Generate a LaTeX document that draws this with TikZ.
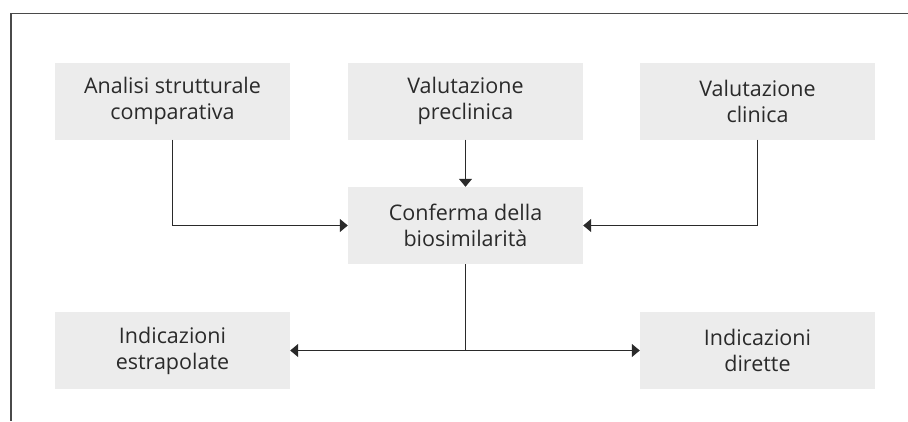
\documentclass[tikz,border=0pt]{standalone}
\usepackage{fontspec}
\setmainfont{Open Sans}
\usepackage{tikz}
\usetikzlibrary{arrows.meta, positioning}
\tikzset{>={Triangle[length=8pt,width=13pt]}}
\definecolor{boxgray}{HTML}{ECECEC}
\definecolor{inkgray}{HTML}{2A2A2A}
\tikzset{
  stepbox/.style={fill=boxgray, draw=none, text=inkgray, align=center,
    minimum width=235pt, minimum height=77pt, inner sep=0pt,
    font=\fontsize{21.5}{26}\selectfont},
  link/.style={draw=inkgray, line width=1.2pt},
}

\begin{document}
\begin{tikzpicture}[x=1pt, y=-1pt]
  \useasboundingbox (0,0) rectangle (908,421);
  % frame
  \draw [draw=inkgray!85, line width=1.6pt] (908,13.5) -- (11,13.5) -- (11,421);
  % top row
  \node [stepbox] (analisi) at (172.5,101) {Analisi strutturale\\comparativa};
  \node [stepbox] (preclin) at (465.5,101) {Valutazione\\preclinica};
  \node [stepbox] (clinica) at (757.5,101) {Valutazione\\clinica};
  % centre
  \node [stepbox] (conferma) at (465.5,225.5) {Conferma della\\biosimilarità};
  % bottom row
  \node [stepbox] (estrap) at (172.5,350.5) {Indicazioni\\estrapolate};
  \node [stepbox] (dirette) at (757.5,350.5) {Indicazioni\\dirette};
  % connectors
  \draw [link, ->] (analisi.south) |- (conferma.west);
  \draw [link, ->] (preclin) -- (conferma);
  \draw [link, ->] (clinica.south) |- (conferma.east);
  \draw [link] (conferma.south) -- (conferma.south |- estrap.east);
  \draw [link, <->] (estrap) -- (dirette);
\end{tikzpicture}
\end{document}
